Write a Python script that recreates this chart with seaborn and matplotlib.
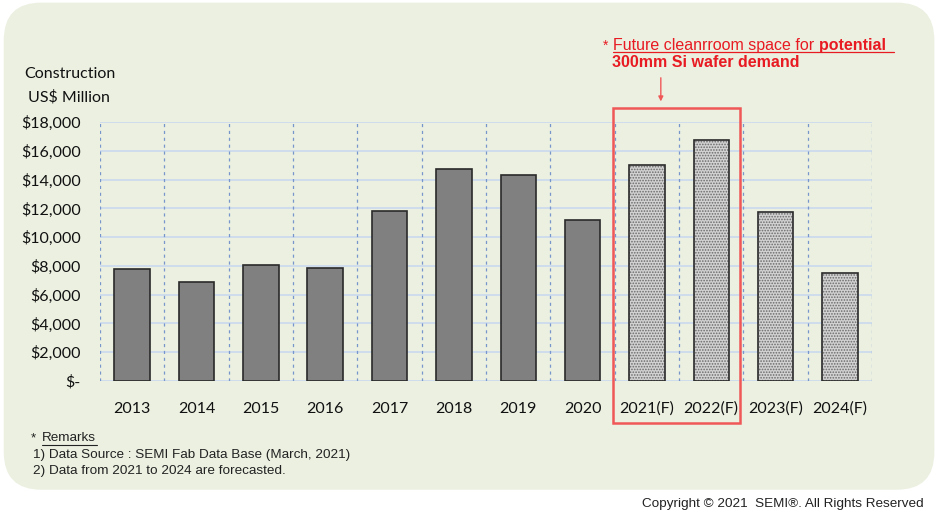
import matplotlib
matplotlib.use("Agg")
import matplotlib.pyplot as plt
from matplotlib.patches import FancyBboxPatch, Rectangle
import seaborn as sns
import pandas as pd

# data (US$ million)
years = ["2013", "2014", "2015", "2016", "2017", "2018", "2019", "2020",
         "2021(F)", "2022(F)", "2023(F)", "2024(F)"]
values = [7800, 6850, 8050, 7850, 11850, 14700, 14300, 11200,
          15000, 16750, 11750, 7500]
forecast = [False] * 8 + [True] * 4
yticks = [0, 2000, 4000, 6000, 8000, 10000, 12000, 14000, 16000, 18000]
ytick_labels = ["$-", "$2,000", "$4,000", "$6,000", "$8,000", "$10,000",
                "$12,000", "$14,000", "$16,000", "$18,000"]

df = pd.DataFrame({"year": years, "value": values})

sns.set_style("white")
plt.rcParams["font.family"] = ["Lato", "DejaVu Sans"]
plt.rcParams["hatch.linewidth"] = 0.8

fig = plt.figure(figsize=(9.4, 5.21), dpi=100)
fig.patch.set_facecolor("white")

# rounded light green panel behind everything
panel = FancyBboxPatch((0.004, 0.06), 0.99, 0.935, transform=fig.transFigure,
                       boxstyle="round,pad=0,rounding_size=0.04",
                       facecolor="#ebf0e1", edgecolor="none", zorder=-5,
                       mutation_aspect=940 / 521)
fig.patches.append(panel)

ax = fig.add_axes([0.1064, 0.2687, 0.8213, 0.4971])
ax.set_facecolor("none")

sns.barplot(data=df, x="year", y="value", ax=ax, color="#808080", width=0.55,
            edgecolor="#2a2a2a", linewidth=1.2, saturation=1, zorder=3)

# forecast bars get the dotted fill
for bar, fc in zip(ax.patches, forecast):
    if fc:
        bar.set_facecolor("#d2d2d2")
        bar.set_edgecolor("#6a6a6a")
        bar.set_hatch("......")
        bar.set_linewidth(0)
        ax.add_patch(Rectangle((bar.get_x(), bar.get_y()), bar.get_width(), bar.get_height(),
                               fill=False, edgecolor="#2a2a2a", linewidth=1.2, zorder=4))

ax.set_ylim(0, 18000)
ax.set_xlim(-0.5, len(years) - 0.5)
ax.set_yticks(yticks)
ax.set_yticklabels(ytick_labels)
for y in yticks:
    ax.axhline(y, color="#c6d6ef", linewidth=1.1, zorder=1)
for i in range(len(years) + 1):
    ax.axvline(i - 0.5, color="#7896cc", linewidth=0.9, linestyle=(0, (2.5, 3)), zorder=1)

for s in ax.spines.values():
    s.set_visible(False)
ax.tick_params(axis="both", length=0, labelsize=11.5, colors="#111111")
ax.tick_params(axis="y", pad=14)
ax.tick_params(axis="x", pad=15)
ax.set_xlabel("")
ax.set_ylabel("")

fig.text(0.026, 0.858, "Construction", fontsize=11.5, color="#111111", va="center")
fig.text(0.030, 0.814, "US$ Million", fontsize=11.5, color="#111111", va="center")

# highlight box and note for the future cleanroom
red = "#e81a22"
box_red = "#f05858"
fig.patches.append(Rectangle((0.652, 0.188), 0.135, 0.605, transform=fig.transFigure,
                             fill=False, edgecolor=box_red, linewidth=1.8, zorder=5))
fig.text(0.641, 0.913, "*", color=red, fontsize=10, family="Liberation Sans", va="center")
t1 = fig.text(0.652, 0.913, "Future cleanrroom space for ", color=red, fontsize=11.5,
              family="Liberation Sans", va="center")
ax.annotate("potential ", xy=(1, 0.5), xycoords=t1, va="center", ha="left",
            color=red, fontsize=11.5, fontweight="bold", family="Liberation Sans",
            annotation_clip=False)
fig.add_artist(plt.Line2D([0.652, 0.951], [0.9, 0.9], color=red, linewidth=0.9,
                          transform=fig.transFigure))
fig.text(0.651, 0.880, "300mm Si wafer demand", color=red, fontsize=11.5, fontweight="bold",
         family="Liberation Sans", va="center")
ax.annotate("", xy=(0.703, 0.800), xytext=(0.703, 0.856), xycoords="figure fraction",
            arrowprops=dict(arrowstyle="-|>", color=box_red, lw=1, mutation_scale=7))

# remarks
rem = dict(fontsize=9.7, family="Liberation Sans", color="#222222", va="center")
fig.text(0.033, 0.159, "*", **rem)
fig.text(0.045, 0.159, "Remarks", **rem)
fig.add_artist(plt.Line2D([0.045, 0.103], [0.146, 0.146], color="#222222", linewidth=0.8,
                          transform=fig.transFigure))
fig.text(0.035, 0.127, "1) Data Source : SEMI Fab Data Base (March, 2021)", **rem)
fig.text(0.035, 0.096, "2) Data from 2021 to 2024 are forecasted.", **rem)

fig.text(0.983, 0.033, "Copyright \u00a9 2021  SEMI\u00ae. All Rights Reserved", fontsize=9.7,
         family="Liberation Sans", color="#222222", ha="right", va="center")

fig.savefig("out.png", dpi=100)
